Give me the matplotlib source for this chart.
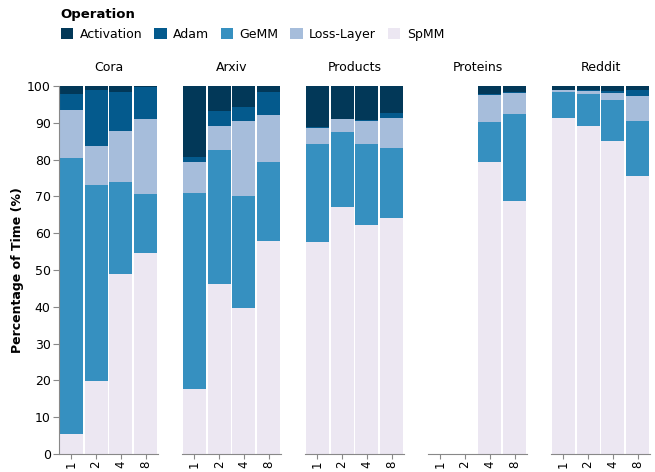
import numpy as np
import matplotlib
matplotlib.use("Agg")
import matplotlib.pyplot as plt

# number of GPUs on x, percentage of epoch time per operation
gpus = ["1", "2", "4", "8"]
datasets = ["Cora", "Arxiv", "Products", "Proteins", "Reddit"]
operations = ["Activation", "Adam", "GeMM", "Loss-Layer", "SpMM"]
colors = ["#023858", "#045a8d", "#3690c0", "#a6bddb", "#ece7f2"]

spmm = {
    "Cora": [5.4, 19.8, 48.8, 54.7],
    "Arxiv": [17.6, 46.3, 39.6, 58.0],
    "Products": [57.5, 67.2, 62.1, 64.0],
    "Proteins": [0, 0, 79.4, 68.8],
    "Reddit": [91.3, 89.2, 85.1, 75.6],
}
gemm = {
    "Cora": [75.1, 53.4, 25.2, 16.0],
    "Arxiv": [53.4, 36.4, 30.6, 21.4],
    "Products": [26.8, 20.3, 22.2, 19.2],
    "Proteins": [0, 0, 10.8, 23.6],
    "Reddit": [7.1, 8.6, 11.1, 14.8],
}
loss_layer = {
    "Cora": [13.0, 10.5, 13.8, 20.4],
    "Arxiv": [8.4, 6.5, 20.3, 12.7],
    "Products": [4.3, 3.6, 6.2, 8.1],
    "Proteins": [0, 0, 7.4, 5.7],
    "Reddit": [0.5, 0.8, 1.9, 6.9],
}
adam = {
    "Cora": [4.2, 15.3, 10.6, 8.7],
    "Arxiv": [1.4, 4.0, 3.8, 6.3],
    "Products": [0.3, 0.0, 0.3, 1.4],
    "Proteins": [0, 0, 0.2, 0.3],
    "Reddit": [0.0, 0.3, 0.5, 1.6],
}
activation = {
    "Cora": [2.3, 1.0, 1.6, 0.2],
    "Arxiv": [19.2, 6.8, 5.7, 1.6],
    "Products": [11.1, 8.9, 9.2, 7.3],
    "Proteins": [0, 0, 2.2, 1.6],
    "Reddit": [1.1, 1.1, 1.4, 1.1],
}

# stacking order bottom -> top
stack = [("SpMM", spmm), ("GeMM", gemm), ("Loss-Layer", loss_layer),
         ("Adam", adam), ("Activation", activation)]
color_of = dict(zip(operations, colors))

W, H = 655, 472
fig = plt.figure(figsize=(W / 100, H / 100), dpi=100)
plt.rcParams["font.family"] = "DejaVu Sans"

axis_grey = "#888888"
left0, step, aw = 59, 123, 99
top, bottom = 86, 454

handles = {}
for i, ds in enumerate(datasets):
    ax = fig.add_axes([(left0 + i * step) / W, (H - bottom) / H, aw / W, (bottom - top) / H])
    x = np.arange(len(gpus))
    base = np.zeros(len(gpus))
    for op, table in stack:
        vals = np.array(table[ds], dtype=float)
        b = ax.bar(x, vals, bottom=base, width=0.93, color=color_of[op], linewidth=0)
        handles[op] = b
        base += vals
    ax.set_xlim(-0.5, 3.5)
    ax.set_ylim(0, 100)
    ax.set_xticks(x)
    ax.set_xticklabels(gpus, rotation=90, fontsize=8.5)
    ax.set_title(ds, fontsize=9, pad=11)
    for s in ["top", "right"]:
        ax.spines[s].set_visible(False)
    ax.spines["bottom"].set_color(axis_grey)
    ax.spines["left"].set_color(axis_grey)
    ax.tick_params(axis="x", colors=axis_grey, labelcolor="black", length=3.5, pad=1)
    if i == 0:
        ax.set_yticks(np.arange(0, 101, 10))
        ax.tick_params(axis="y", colors=axis_grey, labelcolor="black", length=4, pad=2, labelsize=9)
        ax.set_ylabel("Percentage of Time (%)", fontsize=9, fontweight="bold", labelpad=2)
    else:
        ax.spines["left"].set_visible(False)
        ax.set_yticks([])

leg = fig.legend([handles[op] for op in operations], operations,
                 title="Operation", loc="upper left",
                 bbox_to_anchor=(52 / W, 1 + 1 / H), ncol=5, frameon=False,
                 fontsize=9, title_fontproperties={"weight": "bold", "size": 9.5},
                 handlelength=1.0, handleheight=1.0, handletextpad=0.5,
                 columnspacing=0.95, borderpad=0.2, labelspacing=0.55)
leg._legend_box.align = "left"

fig.savefig("out.png", dpi=100)
